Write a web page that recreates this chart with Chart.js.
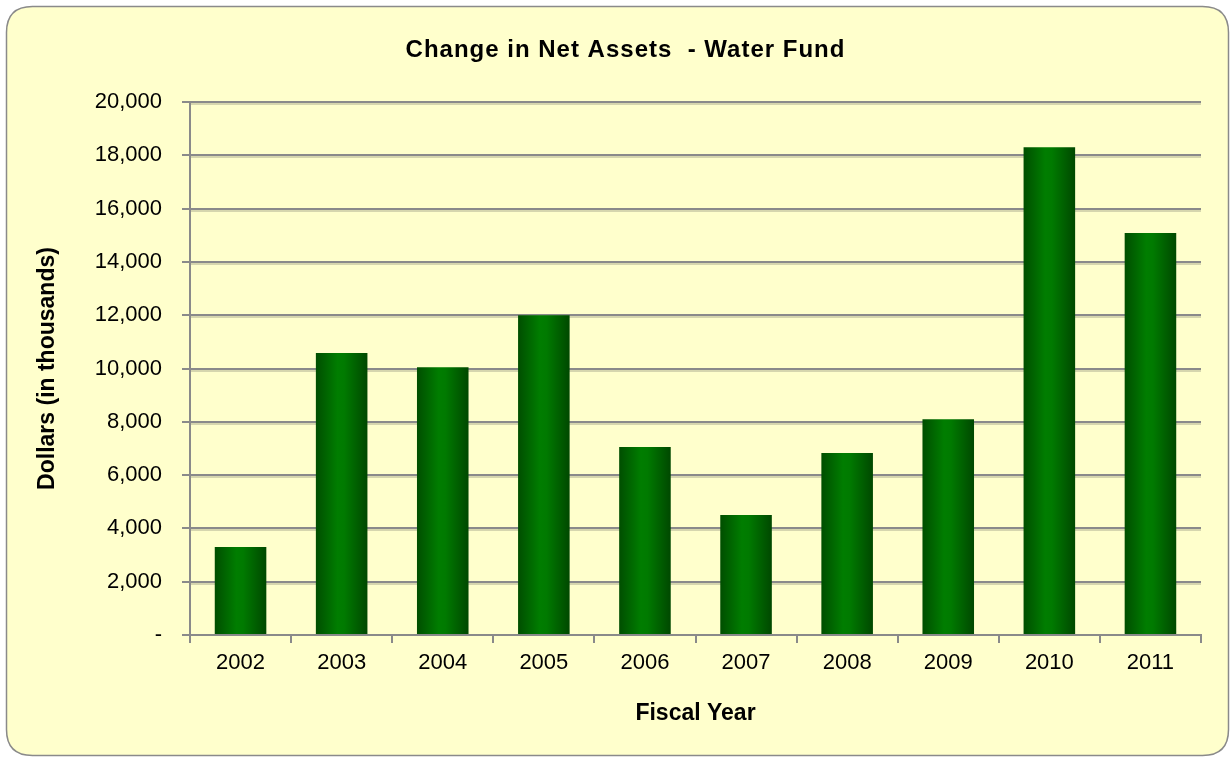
<!DOCTYPE html>
<html>
<head>
<meta charset="utf-8">
<script src="https://cdn.jsdelivr.net/npm/chart.js@4"></script>
<style>
html,body{margin:0;padding:0;background:#fff;}
#wrap{position:relative;width:1231px;height:758px;}
</style>
</head>
<body>
<div id="wrap"><canvas id="c" width="1231" height="758"></canvas></div>
<script>
const categories = ['2002','2003','2004','2005','2006','2007','2008','2009','2010','2011'];
const netAssetChange = [3300, 10580, 10050, 12000, 7050, 4500, 6830, 8100, 18300, 15080];
const yTickValues = [0, 2000, 4000, 6000, 8000, 10000, 12000, 14000, 16000, 18000, 20000];

const BAR_PCT = 0.51;
const FONT = '"Liberation Sans", Arial, sans-serif';

const frame = {
  id: 'frame',
  beforeDraw(chart) {
    const c = chart.ctx;
    c.save();
    const x = 6.5, y = 6.5, w = 1222, h = 749, r = 26;
    c.beginPath();
    c.moveTo(x + r, y);
    c.lineTo(x + w - r, y);
    c.quadraticCurveTo(x + w, y, x + w, y + r);
    c.lineTo(x + w, y + h - r);
    c.quadraticCurveTo(x + w, y + h, x + w - r, y + h);
    c.lineTo(x + r, y + h);
    c.quadraticCurveTo(x, y + h, x, y + h - r);
    c.lineTo(x, y + r);
    c.quadraticCurveTo(x, y, x + r, y);
    c.closePath();
    c.fillStyle = '#FFFFCC';
    c.fill();
    c.lineWidth = 1.5;
    c.strokeStyle = '#8A8A8A';
    c.stroke();
    c.restore();
  },
  // soft light shadow under each horizontal gridline, as in the reference
  beforeDatasetsDraw(chart) {
    const c = chart.ctx, ys = chart.scales.y, a = chart.chartArea;
    c.save();
    c.strokeStyle = 'rgba(180,180,150,0.55)';
    c.lineWidth = 2;
    yTickValues.forEach(v => {
      if (v === 0) return;
      const py = Math.round(ys.getPixelForValue(v)) + 2;
      c.beginPath(); c.moveTo(a.left + 1, py); c.lineTo(a.right, py); c.stroke();
    });
    c.restore();
  }
};

function barGradient(ctx) {
  const chart = ctx.chart;
  const xs = chart.scales && chart.scales.x;
  if (!chart.chartArea || !xs || ctx.dataIndex === undefined) return '#007000';
  const cx = xs.getPixelForValue(ctx.dataIndex);
  const half = (chart.chartArea.width / categories.length) * BAR_PCT / 2;
  const g = chart.ctx.createLinearGradient(cx - half, 0, cx + half, 0);
  g.addColorStop(0, '#004E00');
  g.addColorStop(0.42, '#007D00');
  g.addColorStop(0.55, '#007A00');
  g.addColorStop(1, '#004800');
  return g;
}

const chart = new Chart(document.getElementById('c'), {
  type: 'bar',
  data: {
    labels: categories,
    datasets: [{
      data: netAssetChange,
      backgroundColor: barGradient,
      borderWidth: 0,
      barPercentage: BAR_PCT,
      categoryPercentage: 1
    }]
  },
  plugins: [frame],
  options: {
    responsive: false,
    animation: false,
    devicePixelRatio: 1,
    layout: { padding: { left: 50, right: 30, top: 0, bottom: 0 } },
    plugins: {
      legend: { display: false },
      tooltip: { enabled: false },
      title: {
        display: true,
        text: 'Change in Net Assets  - Water Fund',
        color: '#000',
        font: { family: FONT, size: 24, weight: 'bold', lineHeight: 1.2 },
        padding: { top: 35.6, bottom: 37.6 }
      }
    },
    scales: {
      x: {
        grid: { display: true, drawOnChartArea: false, drawTicks: true, tickLength: 8, color: '#8A8A8A', lineWidth: 2, offset: true },
        border: { display: true, color: '#8A8A8A', width: 2 },
        ticks: { color: '#000', font: { family: FONT, size: 22 }, padding: 7, maxRotation: 0 },
        title: { display: true, text: 'Fiscal Year', color: '#000', font: { family: FONT, size: 23, weight: 'bold', lineHeight: 1.2 }, padding: { top: 0, bottom: 30.2 } },
        afterFit(s) { s.height = 123; }
      },
      y: {
        min: 0, max: 20000,
        afterBuildTicks(s) { s.ticks = yTickValues.map(v => ({ value: v })); },
        grid: { color: '#8A8A8A', lineWidth: 2, tickLength: 8 },
        border: { display: true, color: '#8A8A8A', width: 2 },
        ticks: {
          color: '#000', font: { family: FONT, size: 22 }, padding: 20,
          callback: v => v === 0 ? '-' : v.toLocaleString('en-US')
        },
        title: { display: true, text: 'Dollars (in thousands)', color: '#000', font: { family: FONT, size: 23, weight: 'bold', lineHeight: 1.2 }, padding: { top: -15.8, bottom: 0 } },
        afterFit(s) { s.width = 140; }
      }
    }
  }
});

// slight letter spacing on the title, as in the reference rendering
const tb = chart.titleBlock;
if (tb) {
  const origDraw = tb.draw;
  tb.draw = function () {
    const c = this.ctx || chart.ctx;
    c.save();
    if ('letterSpacing' in c) c.letterSpacing = '1px';
    origDraw.apply(this, arguments);
    c.restore();
  };
  chart.update();
}
</script>
</body>
</html>
